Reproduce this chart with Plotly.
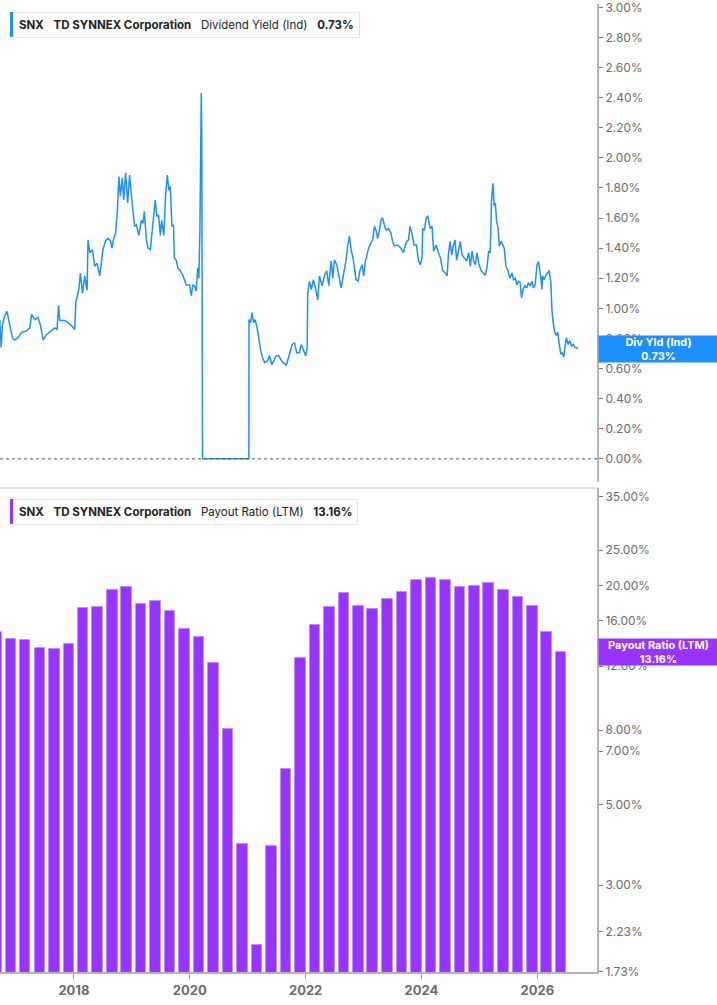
import math
import plotly.graph_objects as go

# dividend yield (indicated), %
yield_dates = [
    "2016-09-21", "2016-09-29", "2016-10-07", "2016-10-22", "2016-11-05", "2016-11-22", "2016-12-09", "2016-12-24",
    "2017-01-14", "2017-02-05", "2017-03-08", "2017-03-29", "2017-04-09", "2017-04-30", "2017-05-20", "2017-06-04",
    "2017-06-21", "2017-07-12", "2017-08-13", "2017-09-02", "2017-09-17", "2017-09-26", "2017-10-04", "2017-11-04",
    "2017-11-25", "2017-12-17", "2018-01-06", "2018-01-13", "2018-01-27", "2018-02-02", "2018-02-11", "2018-02-24",
    "2018-03-10", "2018-03-25", "2018-03-31", "2018-04-11", "2018-04-28", "2018-05-12", "2018-05-27", "2018-06-13",
    "2018-07-03", "2018-07-20", "2018-08-04", "2018-08-19", "2018-08-29", "2018-09-09", "2018-09-21", "2018-10-02",
    "2018-10-12", "2018-10-21", "2018-11-02", "2018-11-11", "2018-11-23", "2018-12-06", "2018-12-18", "2018-12-29",
    "2019-01-08", "2019-01-19", "2019-01-30", "2019-02-15", "2019-03-02", "2019-03-12", "2019-03-21", "2019-04-03",
    "2019-04-13", "2019-04-28", "2019-05-10", "2019-05-18", "2019-05-29", "2019-06-08", "2019-06-19", "2019-06-30",
    "2019-07-08", "2019-07-22", "2019-08-02", "2019-08-13", "2019-08-23", "2019-09-01", "2019-09-11", "2019-09-21",
    "2019-09-26", "2019-10-08", "2019-10-18", "2019-11-02", "2019-11-19", "2019-12-10", "2020-01-01", "2020-01-11",
    "2020-01-21", "2020-01-31", "2020-02-11", "2020-02-21", "2020-02-28", "2020-03-05", "2020-03-09", "2020-03-14",
    "2020-03-17", "2020-03-22", "2021-01-08", "2021-01-09", "2021-01-19", "2021-01-28", "2021-02-07", "2021-02-17",
    "2021-03-01", "2021-03-12", "2021-03-23", "2021-04-03", "2021-04-17", "2021-05-08", "2021-05-18", "2021-06-02",
    "2021-06-19", "2021-06-30", "2021-07-16", "2021-07-31", "2021-09-01", "2021-09-21", "2021-10-08", "2021-10-23",
    "2021-11-06", "2021-11-23", "2021-12-04", "2021-12-18", "2022-01-01", "2022-01-11", "2022-01-14", "2022-01-25",
    "2022-02-05", "2022-02-19", "2022-03-04", "2022-03-18", "2022-03-29", "2022-04-15", "2022-04-30", "2022-05-14",
    "2022-05-27", "2022-06-11", "2022-06-21", "2022-07-01", "2022-07-16", "2022-07-29", "2022-08-13", "2022-08-27",
    "2022-09-13", "2022-09-23", "2022-10-04", "2022-10-15", "2022-10-29", "2022-11-15", "2022-11-28", "2022-12-10",
    "2022-12-23", "2023-01-02", "2023-01-13", "2023-01-23", "2023-02-02", "2023-02-17", "2023-02-28", "2023-03-10",
    "2023-03-21", "2023-03-31", "2023-04-11", "2023-04-21", "2023-05-01", "2023-05-12", "2023-05-23", "2023-06-08",
    "2023-06-23", "2023-07-03", "2023-07-14", "2023-08-04", "2023-08-25", "2023-09-09", "2023-09-26", "2023-10-12",
    "2023-10-21", "2023-11-02", "2023-11-15", "2023-12-01", "2023-12-14", "2023-12-25", "2024-01-05", "2024-01-09",
    "2024-01-20", "2024-01-31", "2024-02-10", "2024-02-25", "2024-03-08", "2024-03-18", "2024-04-03", "2024-04-17",
    "2024-04-30", "2024-05-14", "2024-05-31", "2024-06-11", "2024-06-19", "2024-06-30", "2024-07-10", "2024-07-20",
    "2024-07-31", "2024-08-10", "2024-08-23", "2024-09-02", "2024-09-13", "2024-09-28", "2024-10-12", "2024-10-25",
    "2024-11-04", "2024-11-15", "2024-11-25", "2024-12-06", "2024-12-17", "2024-12-27", "2025-01-11", "2025-01-25",
    "2025-02-07", "2025-02-17", "2025-02-28", "2025-03-10", "2025-03-18", "2025-03-27", "2025-04-04", "2025-04-11",
    "2025-04-19", "2025-04-28", "2025-05-06", "2025-05-18", "2025-05-27", "2025-06-06", "2025-06-17", "2025-06-30",
    "2025-07-12", "2025-07-25", "2025-08-04", "2025-08-15", "2025-08-25", "2025-09-04", "2025-09-15", "2025-09-23",
    "2025-10-04", "2025-10-15", "2025-10-25", "2025-11-06", "2025-11-17", "2025-11-28", "2025-12-08", "2025-12-18",
    "2025-12-30", "2026-01-08", "2026-01-19", "2026-01-30", "2026-02-02", "2026-02-13", "2026-02-24", "2026-03-06",
    "2026-03-17", "2026-03-27", "2026-04-03", "2026-04-11", "2026-04-21", "2026-05-01", "2026-05-10", "2026-05-18",
    "2026-05-29", "2026-06-08", "2026-06-17", "2026-06-25", "2026-07-03", "2026-07-14", "2026-07-25", "2026-08-04",
    "2026-08-15", "2026-08-25", "2026-09-04", "2026-09-13",
]
yield_values = [
    0.92, 0.74, 0.885, 0.95, 0.98, 0.885, 0.805, 0.79,
    0.805, 0.84, 0.85, 0.87, 0.96, 0.925, 0.94, 0.885,
    0.79, 0.825, 0.85, 0.87, 0.86, 1.02, 0.92, 0.92,
    0.905, 0.885, 0.86, 1.04, 1.10, 1.135, 1.235, 1.10,
    1.215, 1.12, 1.455, 1.37, 1.39, 1.28, 1.30, 1.215,
    1.39, 1.45, 1.465, 1.45, 1.40, 1.465, 1.50, 1.65,
    1.875, 1.745, 1.865, 1.72, 1.90, 1.70, 1.885, 1.745,
    1.65, 1.545, 1.555, 1.485, 1.585, 1.565, 1.645, 1.455,
    1.40, 1.39, 1.52, 1.585, 1.72, 1.61, 1.62, 1.485,
    1.585, 1.485, 1.75, 1.885, 1.785, 1.81, 1.545, 1.555,
    1.335, 1.32, 1.27, 1.25, 1.22, 1.155, 1.155, 1.085,
    1.155, 1.15, 1.115, 1.27, 1.20, 1.50, 1.85, 2.43,
    2.15, 0.0, 0.0, 0.925, 0.905, 0.97, 0.905, 0.925,
    0.87, 0.785, 0.725, 0.675, 0.64, 0.655, 0.685, 0.625,
    0.66, 0.685, 0.685, 0.655, 0.62, 0.705, 0.76, 0.77,
    0.705, 0.705, 0.76, 0.725, 0.685, 0.74, 1.10, 1.18,
    1.125, 1.19, 1.135, 1.055, 1.215, 1.15, 1.22, 1.25,
    1.15, 1.315, 1.20, 1.32, 1.29, 1.22, 1.135, 1.22,
    1.32, 1.415, 1.48, 1.39, 1.32, 1.19, 1.18, 1.255,
    1.29, 1.215, 1.315, 1.355, 1.40, 1.435, 1.455, 1.545,
    1.52, 1.465, 1.515, 1.585, 1.60, 1.555, 1.52, 1.53,
    1.50, 1.445, 1.415, 1.42, 1.40, 1.37, 1.435, 1.455,
    1.545, 1.50, 1.42, 1.42, 1.315, 1.29, 1.335, 1.53,
    1.52, 1.60, 1.615, 1.53, 1.545, 1.38, 1.42, 1.37,
    1.335, 1.25, 1.235, 1.215, 1.355, 1.445, 1.355, 1.415,
    1.455, 1.32, 1.38, 1.445, 1.355, 1.335, 1.315, 1.37,
    1.28, 1.38, 1.315, 1.29, 1.37, 1.30, 1.25, 1.235,
    1.22, 1.27, 1.38, 1.37, 1.72, 1.83, 1.68, 1.70,
    1.58, 1.535, 1.415, 1.445, 1.42, 1.40, 1.28, 1.25,
    1.20, 1.235, 1.19, 1.20, 1.155, 1.18, 1.17, 1.07,
    1.135, 1.15, 1.135, 1.17, 1.15, 1.18, 1.135, 1.155,
    1.29, 1.31, 1.235, 1.125, 1.215, 1.19, 1.22, 1.235,
    1.25, 1.17, 0.985, 0.905, 0.84, 0.82, 0.84, 0.77,
    0.695, 0.705, 0.675, 0.75, 0.805, 0.76, 0.785, 0.75,
    0.76, 0.74, 0.74, 0.73,
]

# payout ratio (LTM), %, fiscal quarter ends
payout_dates = [
    "2016-08-31", "2016-11-30", "2017-02-28", "2017-05-31", "2017-08-31", "2017-11-30",
    "2018-02-28", "2018-05-31", "2018-08-31", "2018-11-30", "2019-02-28", "2019-05-31",
    "2019-08-31", "2019-11-30", "2020-02-29", "2020-05-31", "2020-08-31", "2020-11-30",
    "2021-02-28", "2021-05-31", "2021-08-31", "2021-11-30", "2022-02-28", "2022-05-31",
    "2022-08-31", "2022-11-30", "2023-02-28", "2023-05-31", "2023-08-31", "2023-11-30",
    "2024-02-29", "2024-05-31", "2024-08-31", "2024-11-30", "2025-02-28", "2025-05-31",
    "2025-08-31", "2025-11-30", "2026-02-28", "2026-05-31",
]
payout_values = [
    14.85, 14.26, 14.18, 13.47, 13.39, 13.82,
    17.28, 17.46, 19.44, 19.82, 17.80, 18.14,
    17.02, 15.19, 14.44, 12.26, 8.07, 3.88,
    2.05, 3.85, 6.27, 12.65, 15.58, 17.46,
    19.08, 17.57, 17.25, 18.37, 19.20, 20.72,
    20.98, 20.72, 19.82, 19.94, 20.32, 19.44,
    18.60, 17.57, 14.91, 13.16,
]

yield_ticks = [0.0, 0.2, 0.4, 0.6, 0.8, 1.0, 1.2, 1.4, 1.6, 1.8, 2.0, 2.2, 2.4, 2.6, 2.8, 3.0]
payout_ticks = [1.73, 2.23, 3, 5, 7, 8, 12, 16, 20, 25, 35]

BLUE = "#1e8fff"
PURPLE = "#9933ff"
FONT = "Inter"

fig = go.Figure()

fig.add_trace(go.Scatter(
    x=yield_dates, y=yield_values, mode="lines",
    line=dict(color=BLUE, width=1.5),
    xaxis="x", yaxis="y", hoverinfo="skip",
))

fig.add_trace(go.Bar(
    x=payout_dates, y=payout_values,
    width=66 * 24 * 3600 * 1000,
    marker=dict(color=PURPLE, line=dict(color="#c08cff", width=1)),
    xaxis="x", yaxis="y2", hoverinfo="skip",
))

W, H = 717, 1005
PW, PH = 597, 972  # plot area in pixels


def px(x):
    return x / PW


def py(y):
    return (PH - y) / PH


axis_common = dict(
    side="right", showgrid=False, zeroline=False,
    showline=True, linecolor="#b3b3b3", linewidth=2,
    ticks="outside", ticklen=4, tickcolor="#777",
    tickfont=dict(family=FONT, size=12, color="#6b6b6b"),
    ticklabeloverflow="allow",
    fixedrange=True,
)

fig.update_layout(
    width=W, height=H,
    margin=dict(l=0, r=W - PW, t=0, b=H - PH),
    paper_bgcolor="white", plot_bgcolor="white",
    showlegend=False,
    bargap=0,
    font=dict(family=FONT),
    xaxis=dict(
        type="date", range=["2016-09-22", "2027-01-12"],
        tick0="2018-01-01", dtick="M24", tickformat="%Y",
        showgrid=False, zeroline=False,
        showline=True, linecolor="#b3b3b3", linewidth=2,
        ticks="outside", ticklen=5, tickcolor="#999",
        tickfont=dict(family=FONT, size=13, color="#6b6b6b", weight="bold"),
        anchor="y2", fixedrange=True,
    ),
    yaxis=dict(
        domain=[py(480), 1], range=[-0.154, 3.022],
        tickvals=yield_ticks, ticktext=[f"{v:.2f}%" for v in yield_ticks],
        anchor="x", **axis_common,
    ),
    yaxis2=dict(
        domain=[0, py(486)], type="log", range=[0.2380, 1.5688],
        tickvals=payout_ticks, ticktext=[f"{v:.2f}%" for v in payout_ticks],
        anchor="x", **axis_common,
    ),
)

# zero reference line in the yield panel
fig.add_shape(type="line", xref="paper", yref="y", x0=0, x1=1, y0=0, y1=0,
              line=dict(color="#555", width=1, dash="dot"))
# separator between panels
fig.add_shape(type="line", xref="paper", yref="paper", x0=0, x1=1, y0=py(486), y1=py(486),
              line=dict(color="#e3e3e3", width=2))


def title_box(y_top, label, value, color):
    fig.add_annotation(
        xref="paper", yref="paper", x=px(13), y=py(y_top), xanchor="left", yanchor="top",
        text=f"<b>SNX</b>   <b>TD SYNNEX Corporation</b>   {label}   <b>{value}</b>",
        showarrow=False, align="left",
        font=dict(family=FONT, size=11.5, color="#222"),
        bgcolor="white", bordercolor="#e6e6e6", borderwidth=1, borderpad=5,
    )
    fig.add_shape(type="rect", xref="paper", yref="paper",
                  x0=px(10), x1=px(13), y0=py(y_top + 25), y1=py(y_top),
                  fillcolor=color, line=dict(width=0))


title_box(8, "Dividend Yield (Ind)", f"{yield_values[-1]:.2f}%", BLUE)
title_box(497, "Payout Ratio (LTM)", f"{payout_values[-1]:.2f}%", PURPLE)


def value_tag(yref, yval, label, value, color):
    fig.add_annotation(
        xref="paper", yref=yref, x=px(PW + 1), y=yval, xanchor="left", yanchor="middle",
        text=f"<b>{label}</b><br><b>{value}</b>",
        showarrow=False, align="center", width=117, height=24,
        font=dict(family=FONT, size=11, color="white"),
        bgcolor=color, borderpad=1,
    )


value_tag("y", yield_values[-1], "Div Yld (Ind)", f"{yield_values[-1]:.2f}%", BLUE)
value_tag("y2", math.log10(payout_values[-1]), "Payout Ratio (LTM)", f"{payout_values[-1]:.2f}%", PURPLE)

fig.write_html("out.html", config={"displayModeBar": False},
               post_script="document.body.style.margin='0';")
